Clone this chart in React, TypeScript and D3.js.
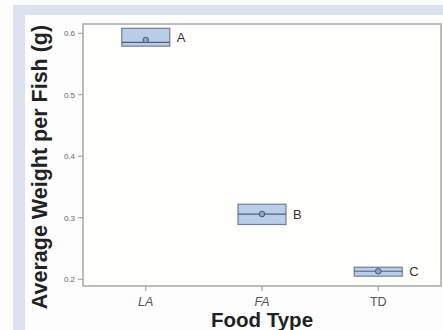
import React from "react";
import * as d3 from "d3";

const categories = ["LA", "FA", "TD"];
const boxTop = [0.608, 0.322, 0.2195];
const boxBottom = [0.579, 0.289, 0.205];
const medians = [0.585, 0.306, 0.213];
const means = [0.589, 0.306, 0.213];
const groupLetters = ["A", "B", "C"];
const yTicks = [0.2, 0.3, 0.4, 0.5, 0.6];
const italicCats = [true, true, false];

export default function App() {
  const W = 443, H = 330;
  const left = 83, right = 441, top = 24, bottom = 286;
  const x = d3.scalePoint<string>().domain(categories).range([left, right]).padding(0.54);
  const y = d3.scaleLinear().domain([0.189, 0.615]).range([bottom, top]);
  const bw = 48;
  return (
    <svg width={W} height={H} style={{ position: "absolute", left: 0, top: 0 }}
      fontFamily="Liberation Sans, Arial, sans-serif">
      <rect x={0} y={0} width={W} height={H} fill="#fdfdfd" />
      <rect x={13} y={5} width={W - 13} height={10} fill="#dde0ef" />
      <rect x={13} y={5} width={12} height={H - 5} fill="#dde0ef" />
      <rect x={left} y={top} width={right - left} height={bottom - top} fill="#fffefa" stroke="#a8a8a8" strokeWidth={1.5} />
      {yTicks.map((t) => (
        <g key={t}>
          <line x1={left - 5} x2={left} y1={y(t)} y2={y(t)} stroke="#999" strokeWidth={1} />
          <text x={left - 8} y={y(t)} dy="0.35em" textAnchor="end" fontSize={8} fill="#666">{t.toFixed(1)}</text>
        </g>
      ))}
      {categories.map((c, i) => (
        <g key={c}>
          <line x1={x(c)} x2={x(c)} y1={bottom} y2={bottom + 5} stroke="#999" strokeWidth={1} />
          <text x={x(c)} y={305.5} textAnchor="middle" fontSize={12.5} fill="#555"
            fontStyle={italicCats[i] ? "italic" : "normal"}>{c}</text>
          <rect x={x(c)! - bw / 2} y={y(boxTop[i])} width={bw} height={y(boxBottom[i]) - y(boxTop[i])}
            fill="#b9cde6" stroke="#6f7f98" strokeWidth={1.2} />
          <line x1={x(c)! - bw / 2} x2={x(c)! + bw / 2} y1={y(medians[i])} y2={y(medians[i])} stroke="#4f5f7a" strokeWidth={1.2} />
          <circle cx={x(c)} cy={y(means[i])} r={2.8} fill="#8aa3c8" stroke="#4a5a78" strokeWidth={1} />
          <text x={x(c)! + bw / 2 + 7} y={(y(boxTop[i]) + y(boxBottom[i])) / 2} dy="0.36em" fontSize={13} fill="#333">{groupLetters[i]}</text>
        </g>
      ))}
      <text transform={`translate(47,${(22 + 312) / 2}) rotate(-90)`} textAnchor="middle" fontSize={21.5} fontWeight="bold" fill="#222">Average Weight per Fish (g)</text>
      <text x={262} y={326.5} textAnchor="middle" fontSize={20.5} fontWeight="bold" fill="#222">Food Type</text>
    </svg>
  );
}
